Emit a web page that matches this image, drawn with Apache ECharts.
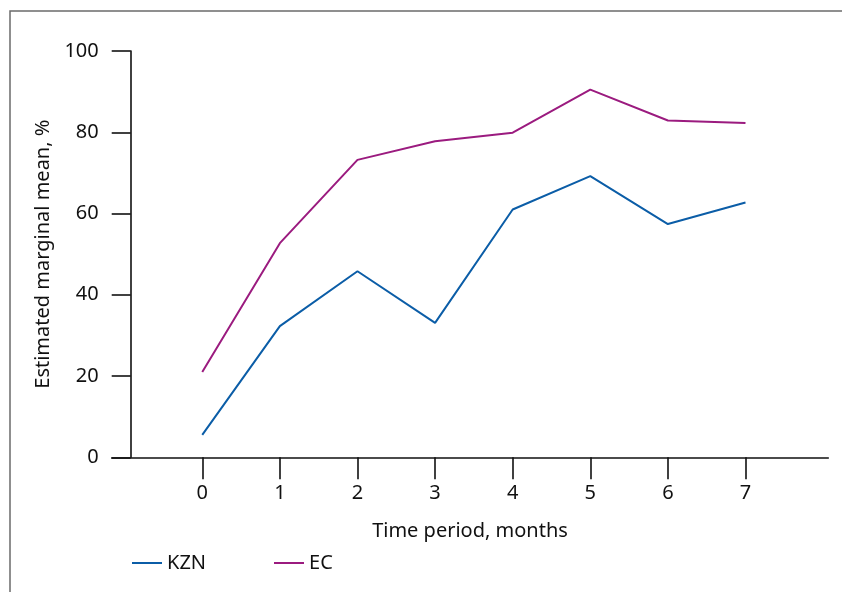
<!DOCTYPE html>
<html><head><meta charset="utf-8">
<script src="https://cdn.jsdelivr.net/npm/echarts@6/dist/echarts.min.js"></script>
<style>html,body{margin:0;padding:0;background:#fff}#c{width:842px;height:592px}</style>
</head><body><div id="c"></div>
<script>
const months = [0, 1, 2, 3, 4, 5, 6, 7];
const kzn = [5.5, 32.3, 45.8, 33.1, 61.0, 69.2, 57.4, 62.7];
const ec  = [21.0, 52.7, 73.2, 77.8, 79.9, 90.5, 82.9, 82.3];
const yTicks = [0, 20, 40, 60, 80, 100];
const xName = 'Time period, months';
const yName = 'Estimated marginal mean, %';

const FONT = 'Noto Sans';
const FS = 20;
const chart = echarts.init(document.getElementById('c'));
chart.setOption({
  animation: false,
  backgroundColor: '#fff',
  graphic: [{
    type: 'polyline', silent: true,
    shape: { points: [[10, 592], [10, 11], [842, 11]] },
    style: { stroke: '#6b6b6b', lineWidth: 1.5, fill: null }
  }],
  grid: { left: 111.7, right: 13.7, top: 51, bottom: 134.7, containLabel: false },
  legend: {
    left: 132, top: 553, padding: 0, icon: 'rect', itemWidth: 30, itemHeight: 2, itemGap: 68,
    textStyle: { fontFamily: FONT, fontSize: FS, color: '#111' },
    data: ['KZN', 'EC']
  },
  xAxis: {
    type: 'value', min: -1.167, max: 8.067,
    name: xName, nameLocation: 'middle', nameGap: 64,
    nameTextStyle: { fontFamily: FONT, fontSize: FS, color: '#111' },
    axisLine: { show: true, onZero: false, lineStyle: { color: '#111', width: 1.6 } },
    axisTick: { show: true, length: 22, customValues: months, lineStyle: { color: '#111', width: 1.6 } },
    axisLabel: { margin: 26, customValues: months, fontFamily: FONT, fontSize: FS, color: '#111' },
    splitLine: { show: false }
  },
  yAxis: {
    type: 'value', min: 0, max: 100, interval: 20, offset: -19,
    name: yName, nameLocation: 'middle', nameGap: 76, nameRotate: 90,
    nameTextStyle: { fontFamily: FONT, fontSize: FS, color: '#111' },
    axisLine: { show: true, onZero: false, lineStyle: { color: '#111', width: 1.6 } },
    axisTick: { show: true, length: 19, lineStyle: { color: '#111', width: 1.6 } },
    axisLabel: { margin: 32, fontFamily: FONT, fontSize: FS, color: '#111',
      formatter: v => yTicks.includes(v) ? String(v) : '' },
    splitLine: { show: false }
  },
  series: [
    { name: 'KZN', type: 'line', symbol: 'none', data: months.map((m, i) => [m, kzn[i]]),
      lineStyle: { color: '#0b5da7', width: 2 }, itemStyle: { color: '#0b5da7' } },
    { name: 'EC', type: 'line', symbol: 'none', data: months.map((m, i) => [m, ec[i]]),
      lineStyle: { color: '#9b1b7f', width: 2 }, itemStyle: { color: '#9b1b7f' } }
  ]
});
</script></body></html>
